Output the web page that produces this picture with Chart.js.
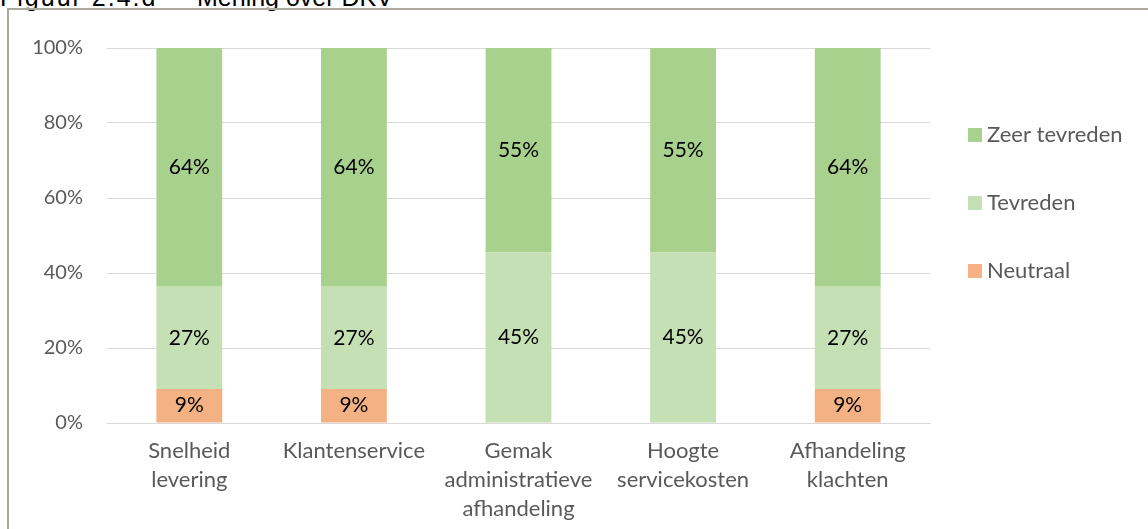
<!DOCTYPE html>
<html>
<head>
<meta charset="utf-8">
<script src="https://cdn.jsdelivr.net/npm/chart.js@4.4.1/dist/chart.umd.min.js"></script>
<style>
  html, body { margin: 0; padding: 0; background: #fff; overflow: hidden; }
  body { width: 1148px; height: 529px; position: relative; }
  .title { position: absolute; top: -15px; font: 25px "Liberation Sans", Arial, sans-serif; line-height: 25px; color: #000; white-space: nowrap; }
  .frame { position: absolute; left: 7px; top: 8px; width: 1300px; height: 700px; border-left: 2px solid #aba99d; border-top: 2px solid #aba99d; }
  #grafiek { position: absolute; left: 0; top: 0; }
</style>
</head>
<body>
<div class="title" style="left:0px; letter-spacing:2px">Figuur 2.4.d</div>
<div class="title" style="left:197px">Mening over DKV</div>
<div class="frame"></div>
<canvas id="grafiek" width="1148" height="529"></canvas>
<script>
// categorieën en waarden (aandeel respondenten, n = 11)
const categorieen = [
    ['Snelheid', 'levering'],
    'Klantenservice',
    ['Gemak', 'administratieve', 'afhandeling'],
    ['Hoogte', 'servicekosten'],
    ['Afhandeling', 'klachten']
];
const neutraal = [9.09, 9.09, 0, 0, 9.09];
const tevreden = [27.27, 27.27, 45.45, 45.45, 27.27];
const zeerTevreden = [63.64, 63.64, 54.55, 54.55, 63.64];
const yTicks = [0, 20, 40, 60, 80, 100];

const lettertype = 'Lato, "Noto Sans", sans-serif';
const grijs = '#595959';

// percentages in de staven
const waardeLabels = {
    id: 'waardeLabels',
    afterDatasetsDraw(chart) {
        const ctx = chart.ctx;
        ctx.save();
        ctx.font = '21px ' + lettertype;
        ctx.fillStyle = '#000';
        ctx.textAlign = 'center';
        ctx.textBaseline = 'middle';
        chart.data.datasets.forEach((ds, i) => {
            const meta = chart.getDatasetMeta(i);
            meta.data.forEach((bar, j) => {
                const v = ds.data[j];
                if (!v) return;
                ctx.fillText(Math.round(v) + '%', bar.x, (bar.y + bar.base) / 2);
            });
        });
        ctx.restore();
    }
};

// legenda rechts, in omgekeerde volgorde
const legenda = {
    id: 'legenda',
    afterDraw(chart) {
        const ctx = chart.ctx;
        const area = chart.chartArea;
        const x = area.right + 38;
        let y = area.top + 87;
        ctx.save();
        ctx.font = '22px ' + lettertype;
        ctx.textBaseline = 'middle';
        ctx.textAlign = 'left';
        chart.data.datasets.slice().reverse().forEach(ds => {
            ctx.fillStyle = ds.backgroundColor;
            ctx.fillRect(x, y - 7, 14, 14);
            ctx.fillStyle = grijs;
            ctx.fillText(ds.label, x + 19, y);
            y += 68;
        });
        ctx.restore();
    }
};

const ctx = document.getElementById('grafiek').getContext('2d');
new Chart(ctx, {
    type: 'bar',
    data: {
        labels: categorieen,
        datasets: [
            { label: 'Neutraal', data: neutraal, backgroundColor: '#f4b183' },
            { label: 'Tevreden', data: tevreden, backgroundColor: '#c5e0b4' },
            { label: 'Zeer tevreden', data: zeerTevreden, backgroundColor: '#a9d18e' }
        ]
    },
    options: {
        responsive: false,
        animation: false,
        devicePixelRatio: 1,
        layout: { padding: { left: 10, top: 48, right: 218, bottom: 0 } },
        datasets: { bar: { barPercentage: 0.4, categoryPercentage: 1 } },
        plugins: {
            legend: { display: false },
            tooltip: { enabled: false }
        },
        scales: {
            x: {
                stacked: true,
                grid: { display: false, drawTicks: false },
                border: { color: '#d9d9d9', width: 1 },
                ticks: {
                    color: grijs,
                    font: { family: lettertype, size: 22, lineHeight: 1.3 },
                    padding: 14,
                    maxRotation: 0,
                    autoSkip: false
                },
                afterFit(scale) { scale.height = 106; }
            },
            y: {
                stacked: true,
                min: 0,
                max: 100,
                afterBuildTicks(scale) { scale.ticks = yTicks.map(v => ({ value: v })); },
                grid: { color: '#d9d9d9', drawTicks: false },
                border: { display: false },
                ticks: {
                    color: grijs,
                    font: { family: lettertype, size: 20 },
                    padding: 24,
                    callback: v => v + '%'
                },
                afterFit(scale) { scale.width = 97; }
            }
        }
    },
    plugins: [waardeLabels, legenda]
});
</script>
</body>
</html>
